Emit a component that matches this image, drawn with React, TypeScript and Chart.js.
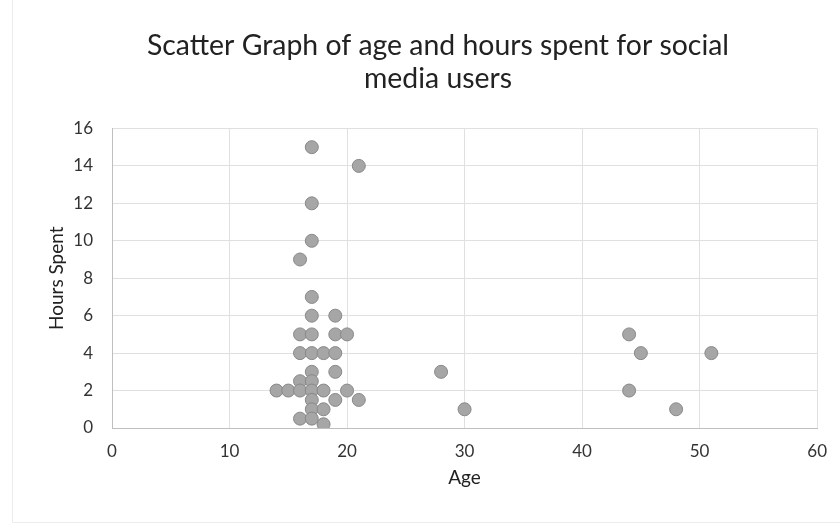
import { useEffect, useRef } from 'react';
import { Chart, registerables } from 'chart.js';

Chart.register(...registerables);

const titleLines = ['Scatter Graph of age and hours spent for social', 'media users'];
const xTitle = 'Age';
const yTitle = 'Hours Spent';

const ages = [
  17, 21, 17, 17, 16,
  17, 17, 19, 16, 17, 19, 20,
  16, 17, 18, 19, 17, 19, 28,
  16, 17, 14, 15, 16, 17, 18, 20,
  17, 19, 21, 17, 18, 30, 16, 17, 18,
  44, 45, 51, 44, 48,
];
const hours = [
  15, 14, 12, 10, 9,
  7, 6, 6, 5, 5, 5, 5,
  4, 4, 4, 4, 3, 3, 3,
  2.5, 2.5, 2, 2, 2, 2, 2, 2,
  1.5, 1.5, 1.5, 1, 1, 1, 0.5, 0.5, 0.2,
  5, 4, 4, 2, 1,
];

const frame = {
  id: 'frame',
  beforeDraw(chart: any) {
    const ctx = chart.ctx;
    ctx.save();
    ctx.strokeStyle = '#ececec';
    ctx.lineWidth = 1;
    ctx.beginPath();
    ctx.moveTo(12.5, 0);
    ctx.lineTo(12.5, 522.5);
    ctx.lineTo(840, 522.5);
    ctx.stroke();
    ctx.restore();
  },
};

export default function App() {
  const ref = useRef<HTMLCanvasElement>(null);
  useEffect(() => {
    document.body.style.margin = '0';
    const chart = new Chart(ref.current!, {
      type: 'scatter',
      data: {
        datasets: [
          {
            data: ages.map((a, i) => ({ x: a, y: hours[i] })),
            backgroundColor: '#a6a6a6',
            borderColor: '#888888',
            borderWidth: 1,
            pointRadius: 6.5,
            pointHoverRadius: 6.5,
          },
        ],
      },
      options: {
        animation: false,
        responsive: false,
        layout: { padding: { left: 56, right: 20, top: 0, bottom: 27 } },
        plugins: {
          legend: { display: false },
          tooltip: { enabled: false },
          title: {
            display: true,
            text: titleLines,
            color: '#222222',
            font: { family: 'Lato', size: 28.4, weight: 'normal', lineHeight: 1.17 },
            padding: { top: 29, bottom: 33 },
          },
        },
        scales: {
          x: {
            type: 'linear',
            min: 0,
            max: 60,
            ticks: { stepSize: 10, padding: 13, color: '#333333', font: { family: 'Lato', size: 17 } },
            grid: { color: '#e0e0e0', drawTicks: false },
            border: { color: '#bfbfbf' },
            title: {
              display: true,
              text: xTitle,
              color: '#222222',
              font: { family: 'Lato', size: 19 },
              padding: { top: 0, bottom: 9 },
            },
            afterFit: (s: any) => { s.height = 70; },
          },
          y: {
            type: 'linear',
            min: 0,
            max: 16,
            ticks: { stepSize: 2, padding: 19, color: '#333333', font: { family: 'Lato', size: 17 } },
            grid: { color: '#e0e0e0', drawTicks: false },
            border: { color: '#bfbfbf' },
            title: {
              display: true,
              text: yTitle,
              color: '#222222',
              font: { family: 'Lato', size: 19 },
              padding: { top: -11, bottom: 0 },
            },
            afterFit: (s: any) => { s.width = 56; },
          },
        },
      },
      plugins: [frame],
    });
    return () => chart.destroy();
  }, []);
  return <canvas ref={ref} width={840} height={525} style={{ display: 'block' }} />;
}
